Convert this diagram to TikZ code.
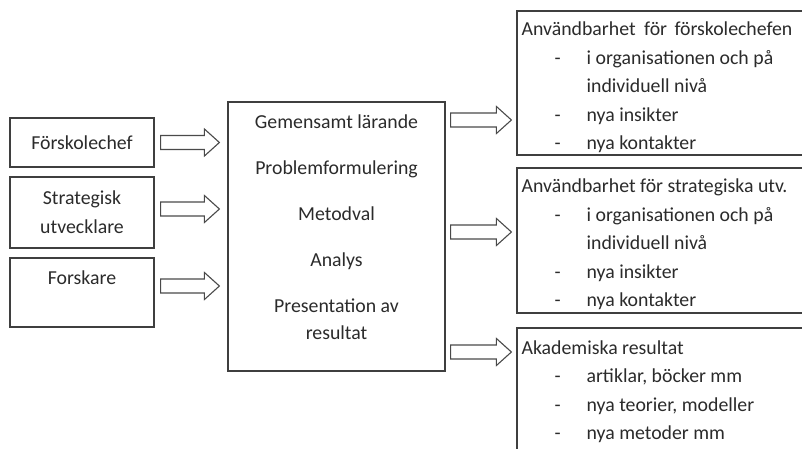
\documentclass[tikz,border=0pt]{standalone}
\usepackage{fontspec}
\setmainfont{Carlito}
\usetikzlibrary{calc}

\definecolor{boxline}{HTML}{3F3F3F}
\definecolor{arrowline}{HTML}{4A4A4A}
\definecolor{ink}{HTML}{2B2B2B}

% hollow block arrow from #1 to #2 (horizontal, pointing right)
\newcommand\hollowarrow[2]{%
  \draw[blockarrow]
    ($(#1)+(0,-7)$) -- ($(#2)+(-15,-7)$) -- ($(#2)+(-15,-13.5)$) --
    (#2) --
    ($(#2)+(-15,13.5)$) -- ($(#2)+(-15,7)$) -- ($(#1)+(0,7)$) -- cycle;}

\tikzset{
  plainbox/.style={draw=boxline, line width=1.2pt, rectangle, inner sep=0pt},
  boxtext/.style={text=ink, inner sep=0pt, font=\fontsize{19.8}{29}\selectfont, align=center},
  listtext/.style={text=ink, inner sep=0pt, font=\fontsize{19.8}{28.4}\selectfont, anchor=north west},
  blockarrow/.style={draw=arrowline, line width=1.1pt, fill=white, line join=miter},
}

\newcommand\outcomes[2]{%
  \begin{tabular}{@{}p{33pt}@{}p{32pt}@{}l@{}}
    \multicolumn{3}{@{}l@{}}{#1}\\
    #2
  \end{tabular}}

\begin{document}
\begin{tikzpicture}[x=1pt, y=-1pt]
  \clip (0,0) rectangle (802,449);
  \fill[white] (0,0) rectangle (802,449);

  % participants
  \node[plainbox, boxtext, minimum width=144pt, minimum height=49pt] (chef) at (82,142.5) {Förskolechef};
  \node[plainbox, boxtext, minimum width=144pt, minimum height=71pt] (strat) at (82,212.5) {Strategisk\\utvecklare};
  \node[plainbox, boxtext, minimum width=144pt, minimum height=69pt] (forsk) at (82,292.5) {Forskare\\\phantom{X}};

  % joint process
  \node[plainbox, minimum width=217pt, minimum height=269pt] (main) at (336.5,236.5) {};
  \node[boxtext, font=\fontsize{19.8}{27}\selectfont, anchor=north, yshift=-13pt] (steps) at (main.north)
    {Gemensamt lärande\\[19pt]Problemformulering\\[19pt]Metodval\\[19pt]Analys\\[19pt]Presentation av\\resultat};

  % outcomes
  \node[plainbox, minimum width=313pt, minimum height=144pt] (use1) at (673.5,83) {};
  \node[plainbox, minimum width=313pt, minimum height=145pt] (use2) at (673.5,240.5) {};
  \node[plainbox, minimum width=313pt, minimum height=142pt] (acad) at (673.5,399) {};

  \node[listtext, xshift=5pt, yshift=-5.5pt] (use1txt) at (use1.north west)
    {\outcomes{Användbarhet\hspace{4pt} för\hspace{3pt} förskolechefen}{%
      & - & i organisationen och på\\
      &   & individuell nivå\\
      & - & nya insikter\\
      & - & nya kontakter}};
  \node[listtext, xshift=5pt, yshift=-5.5pt] (use2txt) at (use2.north west)
    {\outcomes{Användbarhet för strategiska utv.}{%
      & - & i organisationen och på\\
      &   & individuell nivå\\
      & - & nya insikter\\
      & - & nya kontakter}};
  \node[listtext, xshift=5pt, yshift=-7pt] (acadtxt) at (acad.north west)
    {\outcomes{Akademiska resultat}{%
      & - & artiklar, böcker mm\\
      & - & nya teorier, modeller\\
      & - & nya metoder mm}};

  % arrow end points
  \coordinate (a1s) at ([xshift=6pt]chef.east);
  \coordinate (a1e) at ([xshift=-8pt]chef.east -| main.west);
  \coordinate (a2s) at ([xshift=6pt]strat.east |- 0,209);
  \coordinate (a2e) at ([xshift=-8pt]main.west |- 0,209);
  \coordinate (a3s) at ([xshift=6pt]forsk.east |- 0,286);
  \coordinate (a3e) at ([xshift=-8pt]main.west |- 0,286);
  \coordinate (b1s) at ([xshift=5pt]main.east |- 0,120);
  \coordinate (b1e) at ([xshift=-5pt]use1.west |- 0,120);
  \coordinate (b2s) at ([xshift=5pt]main.east |- 0,232);
  \coordinate (b2e) at ([xshift=-5pt]use2.west |- 0,232);
  \coordinate (b3s) at ([xshift=5pt]main.east |- 0,352);
  \coordinate (b3e) at ([xshift=-5pt]acad.west |- 0,352);

  \hollowarrow{a1s}{a1e}
  \hollowarrow{a2s}{a2e}
  \hollowarrow{a3s}{a3e}
  \hollowarrow{b1s}{b1e}
  \hollowarrow{b2s}{b2e}
  \hollowarrow{b3s}{b3e}
\end{tikzpicture}
\end{document}
